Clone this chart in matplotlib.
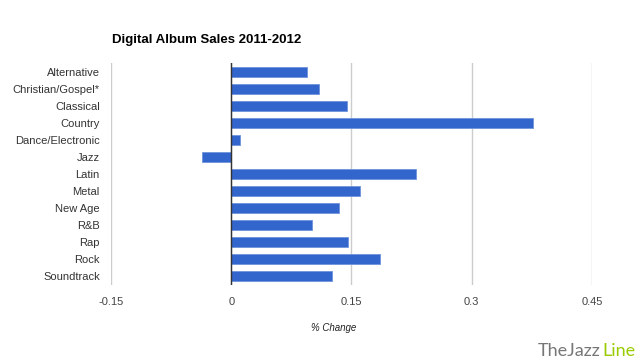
import matplotlib
matplotlib.use("Agg")
import matplotlib.pyplot as plt

plt.rcParams['font.family'] = ['Liberation Sans', 'DejaVu Sans']

genres = ["Alternative", "Christian/Gospel*", "Classical", "Country",
          "Dance/Electronic", "Jazz", "Latin", "Metal", "New Age", "R&B",
          "Rap", "Rock", "Soundtrack"]
change = [0.094, 0.110, 0.144, 0.377, 0.011, -0.036, 0.230, 0.161,
          0.135, 0.101, 0.146, 0.186, 0.126]
xticks = [-0.15, 0, 0.15, 0.3, 0.45]
xticklabels = ["-0.15", "0", "0.15", "0.3", "0.45"]

fig = plt.figure(figsize=(6.4, 3.6), dpi=100)
ax = fig.add_axes([0.1734, 0.2097, 0.7516, 0.614])

ypos = list(range(len(genres)))
ax.barh(ypos, change, height=0.6, color="#3366cc", edgecolor="#6f94dc",
        linewidth=0.6, zorder=3)
ax.set_ylim(len(genres) - 0.5, -0.5)
ax.set_xlim(-0.15, 0.45)
ax.set_yticks(ypos)
ax.set_yticklabels(genres, fontsize=8, color="#333333")
ax.set_xticks(xticks)
ax.set_xticklabels(xticklabels, fontsize=8, color="#444444")
ax.tick_params(axis='x', length=0, pad=9)
ax.tick_params(axis='y', length=0, pad=8)
for s in ax.spines.values():
    s.set_visible(False)
ax.grid(axis='x', color="#cccccc", linewidth=1, zorder=0)
ax.axvline(0, color="#333333", linewidth=1, zorder=4)

fig.text(112 / 640, 1 - 40 / 360, "Digital Album Sales 2011-2012",
         fontsize=9.5, fontweight='bold', color="#000000", va='center')
fig.text(334 / 640, 1 - 328 / 360, "% Change", fontsize=7, style='italic',
         color="#222222", ha='center', va='center')

t1 = fig.text(538 / 640, 1 - 351 / 360, "TheJazz", fontsize=13,
              family='Lato', fontweight='normal', color="#777777", va='center')
fig.canvas.draw()
bb = t1.get_window_extent()
fig.text(bb.x1 / 640 + 0.003, 1 - 351 / 360, "Line", fontsize=13,
         family='Lato', fontweight='normal', color="#99cc00", va='center')

fig.savefig("out.png", dpi=100)
